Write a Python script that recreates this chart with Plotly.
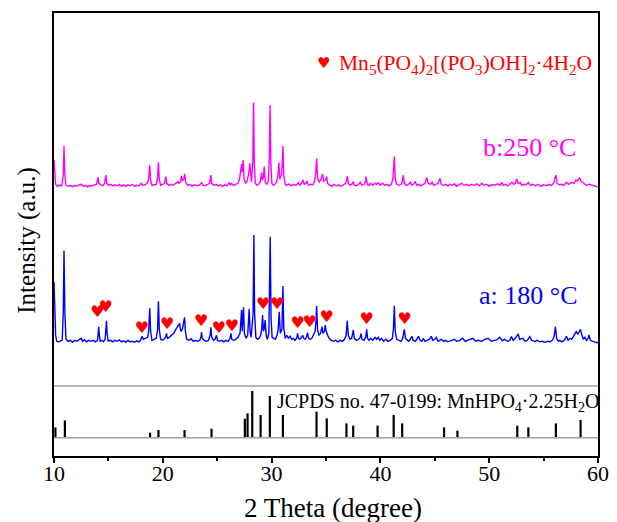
import plotly.graph_objects as go

# ---------------- data ----------------
# (2theta, intensity above the pattern's own baseline, a.u.)
curve_a_180C = [
    (10.0, 61.6), (10.08, 40), (10.15, 8), (10.25, 2), (10.4, 1.5), (10.6, 2.5), (10.75, 3), (10.85, 30),
    (10.92, 92.6), (11.0, 30), (11.1, 4), (11.3, 2), (11.5, 3), (11.7, 1), (11.9, 3), (12.1, 2), (12.3, 4),
    (12.5, 5), (12.65, 2), (12.8, 3.5), (13.0, 1.5), (13.2, 3), (13.4, 2), (13.6, 3), (13.8, 1.5), (14.0, 3),
    (14.06, 10), (14.11, 16.6), (14.17, 8), (14.25, 2), (14.4, 3), (14.55, 1.5), (14.7, 4), (14.76, 12),
    (14.82, 22.6), (14.88, 10), (14.98, 2.5), (15.2, 3), (15.4, 1.5), (15.6, 3), (15.8, 2), (16.0, 3.5),
    (16.2, 1.5), (16.4, 2.5), (16.6, 1), (16.8, 3), (17.0, 1.5), (17.2, 2), (17.4, 1), (17.6, 2.5), (17.8, 1.5),
    (17.95, 3), (18.05, 6), (18.1, 7), (18.2, 4), (18.4, 5), (18.6, 6), (18.7, 12), (18.8, 35), (18.88, 12),
    (19.0, 3), (19.2, 4), (19.4, 5), (19.52, 14), (19.6, 42), (19.68, 14), (19.8, 4), (19.95, 3), (20.1, 4),
    (20.25, 6), (20.34, 10), (20.42, 5), (20.6, 6), (20.8, 8), (21.0, 10), (21.2, 14), (21.4, 17), (21.55, 20),
    (21.65, 12), (21.8, 14), (21.93, 22), (22.0, 26), (22.08, 12), (22.2, 4), (22.4, 3), (22.6, 4.5), (22.8, 2),
    (23.0, 3), (23.2, 2), (23.4, 3), (23.5, 6), (23.56, 11.3), (23.62, 5), (23.8, 3), (24.0, 2), (24.2, 3),
    (24.35, 8), (24.42, 16), (24.5, 6), (24.65, 3), (24.8, 4), (24.94, 8), (25.02, 3), (25.2, 2), (25.4, 3),
    (25.6, 1.5), (25.8, 3), (26.0, 2), (26.18, 5), (26.26, 10), (26.34, 4), (26.5, 3), (26.7, 4), (26.9, 6),
    (27.1, 10), (27.24, 33.3), (27.3, 12), (27.36, 20), (27.42, 36), (27.5, 10), (27.65, 5), (27.8, 8),
    (27.88, 20), (27.94, 34.3), (28.02, 12), (28.12, 6), (28.3, 30), (28.37, 108.3), (28.44, 30), (28.55, 6),
    (28.7, 4), (28.85, 5), (29.0, 8), (29.1, 15), (29.17, 28.3), (29.25, 12), (29.33, 15), (29.41, 23.3),
    (29.5, 8), (29.6, 4), (29.75, 10), (29.87, 106.6), (29.95, 25), (30.05, 6), (30.2, 5), (30.35, 4),
    (30.5, 8), (30.6, 14), (30.7, 31.6), (30.8, 10), (30.95, 14), (31.04, 57.3), (31.12, 15), (31.25, 5),
    (31.4, 8), (31.55, 5), (31.7, 7), (31.85, 4), (32.0, 5), (32.15, 3), (32.3, 5), (32.39, 10), (32.48, 5),
    (32.6, 4), (32.75, 6), (32.85, 8), (32.95, 5), (33.1, 4), (33.22, 7), (33.3, 10.6), (33.4, 5), (33.55, 4),
    (33.7, 5), (33.85, 8), (34.0, 12), (34.08, 22), (34.14, 37.3), (34.22, 14), (34.35, 8), (34.5, 10),
    (34.63, 16.6), (34.72, 10), (34.85, 12), (34.93, 18.3), (35.02, 12), (35.15, 8), (35.3, 5), (35.5, 3),
    (35.7, 2), (35.9, 3), (36.1, 1.5), (36.3, 3), (36.5, 2), (36.7, 4), (36.85, 8), (36.95, 22.6), (37.05, 8),
    (37.2, 4), (37.35, 5), (37.45, 10), (37.51, 13.3), (37.6, 5), (37.8, 3), (38.0, 4), (38.15, 6), (38.22, 10),
    (38.3, 4), (38.5, 3), (38.65, 6), (38.74, 14), (38.82, 5), (38.95, 3), (39.1, 5), (39.3, 3), (39.5, 6),
    (39.65, 4), (39.8, 6), (39.95, 3), (40.1, 5), (40.3, 2), (40.5, 4), (40.7, 2), (40.9, 3), (41.1, 5),
    (41.2, 15), (41.28, 37.6), (41.36, 12), (41.5, 4), (41.7, 3), (41.9, 2), (42.05, 5), (42.2, 14), (42.3, 5),
    (42.45, 3), (42.6, 2), (42.75, 4), (42.9, 7), (43.0, 3), (43.2, 2), (43.35, 4), (43.5, 7), (43.65, 3),
    (43.8, 2), (43.95, 5), (44.1, 2), (44.3, 3), (44.5, 4), (44.68, 7), (44.8, 3), (45.0, 4), (45.14, 6),
    (45.3, 2), (45.6, 4), (45.8, 2), (46.0, 3), (46.2, 1.5), (46.5, 3), (46.8, 4), (47.0, 2), (47.3, 3),
    (47.55, 5), (47.8, 2), (48.0, 3), (48.25, 4), (48.5, 5), (48.75, 2), (49.0, 3), (49.3, 2), (49.6, 4),
    (49.9, 5), (50.2, 2), (50.5, 3), (50.75, 4), (50.97, 6), (51.2, 2.5), (51.4, 4), (51.7, 2), (51.9, 3),
    (52.04, 6.7), (52.2, 3), (52.4, 5), (52.66, 9.3), (52.8, 4), (53.1, 5), (53.3, 2), (53.5, 3), (53.73, 6.7),
    (53.9, 3), (54.2, 2), (54.4, 3), (54.65, 1.5), (54.9, 2), (55.1, 1), (55.4, 2), (55.6, 1.5), (55.8, 3),
    (55.95, 6), (56.09, 16.6), (56.2, 5), (56.35, 2), (56.5, 3), (56.7, 1.5), (56.9, 3), (57.1, 7), (57.25, 3),
    (57.45, 5), (57.6, 4), (57.8, 8), (58.0, 11.7), (58.15, 9), (58.3, 12), (58.39, 14), (58.5, 9), (58.65, 4),
    (58.8, 6), (58.95, 3), (59.1, 5), (59.16, 8.3), (59.3, 3), (59.5, 2), (59.56, 2.5), (59.75, 1), (60.0, 0.5),
]

curve_b_250C = [
    (10.0, 27.3), (10.08, 15), (10.15, 3), (10.3, 1), (10.5, 2), (10.7, 1.5), (10.85, 12), (10.92, 41.3),
    (11.0, 12), (11.1, 2), (11.3, 1), (11.5, 2), (11.7, 0.5), (11.9, 2), (12.1, 1), (12.3, 2.5), (12.5, 3),
    (12.7, 1), (12.9, 2), (13.1, 0.5), (13.3, 2), (13.5, 1), (13.7, 2.5), (13.9, 3), (14.05, 10), (14.12, 4),
    (14.3, 2.5), (14.5, 1.5), (14.65, 4), (14.76, 12.3), (14.85, 4), (15.0, 2), (15.2, 3), (15.4, 1.5),
    (15.6, 2.5), (15.8, 1.5), (16.0, 3), (16.2, 1), (16.4, 2.5), (16.6, 1), (16.8, 2.5), (17.0, 1.5), (17.2, 3),
    (17.4, 1), (17.6, 2), (17.8, 1.5), (18.0, 4), (18.15, 2), (18.35, 2.5), (18.55, 4), (18.7, 8), (18.8, 22.3),
    (18.88, 7), (19.0, 2), (19.2, 2.5), (19.4, 3), (19.5, 8), (19.6, 25), (19.68, 8), (19.8, 2), (20.0, 3),
    (20.15, 4), (20.28, 10.7), (20.36, 4), (20.55, 2), (20.75, 3), (20.95, 2), (21.15, 4), (21.3, 5),
    (21.4, 5.7), (21.5, 4), (21.65, 6), (21.72, 11.7), (21.8, 7), (21.92, 8), (22.02, 13.3), (22.1, 5),
    (22.3, 2), (22.5, 3), (22.7, 1), (22.9, 2.5), (23.1, 1.5), (23.3, 2), (23.45, 3), (23.56, 5), (23.7, 2),
    (23.9, 1.5), (24.1, 2.5), (24.3, 4), (24.42, 12.3), (24.5, 4), (24.7, 2), (24.9, 3), (25.1, 1.5),
    (25.3, 2.5), (25.5, 1), (25.7, 2.5), (25.9, 1.5), (26.1, 4.7), (26.2, 2), (26.3, 4), (26.5, 2), (26.7, 3),
    (26.9, 4), (27.05, 8), (27.15, 14), (27.24, 23.3), (27.3, 15), (27.39, 27.3), (27.47, 8), (27.6, 4),
    (27.75, 6), (27.9, 14), (28.0, 24), (28.07, 8), (28.15, 5), (28.27, 25), (28.34, 84.7), (28.41, 25),
    (28.5, 4), (28.65, 2), (28.8, 3), (28.95, 5), (29.08, 14.7), (29.16, 7), (29.25, 10), (29.32, 20.7),
    (29.4, 6), (29.55, 3), (29.7, 6), (29.78, 25), (29.86, 82.3), (29.93, 25), (30.02, 4), (30.15, 2),
    (30.3, 3), (30.45, 5), (30.58, 12), (30.67, 24.7), (30.75, 8), (30.9, 12), (30.97, 20), (31.04, 41.3),
    (31.12, 12), (31.25, 3), (31.4, 2), (31.6, 3.5), (31.8, 1.5), (32.0, 3), (32.2, 2), (32.35, 3),
    (32.45, 4.7), (32.6, 2), (32.75, 4), (32.9, 7.3), (33.0, 3), (33.15, 4), (33.26, 6.3), (33.4, 2),
    (33.6, 3), (33.8, 2.5), (33.95, 6), (34.05, 14), (34.14, 28.7), (34.22, 10), (34.35, 5), (34.5, 7),
    (34.6, 10), (34.69, 13.3), (34.78, 6), (34.92, 7), (35.06, 10.7), (35.15, 4), (35.35, 2), (35.55, 1),
    (35.75, 3), (35.95, 1.5), (36.15, 2.5), (36.35, 1), (36.55, 2), (36.75, 3.5), (36.88, 6), (36.96, 11.3),
    (37.05, 4), (37.2, 2), (37.35, 3), (37.5, 5.7), (37.6, 2), (37.8, 1.5), (38.0, 3), (38.15, 5), (38.3, 2),
    (38.5, 3), (38.6, 5), (38.68, 10.7), (38.78, 3), (38.95, 2), (39.1, 4), (39.3, 2), (39.5, 4), (39.65, 3),
    (39.8, 4.5), (40.0, 2), (40.2, 4), (40.4, 2), (40.6, 3), (40.8, 1.5), (41.0, 3), (41.15, 8), (41.28, 30.7),
    (41.36, 8), (41.5, 3), (41.7, 2), (41.9, 3), (42.02, 6), (42.1, 12.3), (42.2, 4), (42.4, 2), (42.6, 3),
    (42.75, 5), (42.9, 2), (43.05, 3), (43.2, 5.7), (43.35, 2), (43.5, 3), (43.7, 1.5), (43.9, 3), (44.1, 4),
    (44.26, 9.7), (44.4, 4), (44.6, 3), (44.75, 5), (44.9, 2), (45.1, 3), (45.3, 4), (45.48, 9), (45.6, 3),
    (45.8, 2), (46.0, 3), (46.2, 1.5), (46.4, 3), (46.6, 2), (46.8, 3.5), (47.0, 1), (47.2, 2.5), (47.45, 4),
    (47.7, 2), (47.9, 3), (48.1, 1.5), (48.35, 3), (48.6, 2), (48.85, 3.5), (49.1, 1.5), (49.3, 4), (49.5, 2),
    (49.75, 3), (50.0, 1), (50.25, 2.5), (50.5, 2), (50.75, 3.5), (51.0, 2), (51.16, 5), (51.3, 2), (51.5, 3),
    (51.7, 1.5), (51.9, 3), (52.08, 5), (52.25, 3), (52.4, 4), (52.54, 8.3), (52.65, 4), (52.85, 5), (53.0, 2),
    (53.2, 3), (53.4, 2.5), (53.6, 5), (53.8, 2), (54.0, 3), (54.25, 1.5), (54.5, 3), (54.75, 1), (55.0, 2.5),
    (55.25, 1.5), (55.5, 3), (55.75, 2), (55.95, 5), (56.05, 8), (56.13, 12.3), (56.25, 4), (56.45, 2.5),
    (56.65, 3), (56.85, 2), (57.1, 5), (57.3, 3), (57.6, 5), (57.8, 4), (57.96, 7.3), (58.1, 6), (58.3, 9.7),
    (58.45, 6), (58.7, 4), (58.9, 2), (59.2, 3), (59.4, 2), (59.65, 1.5), (59.85, 1), (60.0, 0),
]

# JCPDS 47-0199 reference lines (2theta, relative height)
jcpds_theta = [10.13, 11.0, 18.83, 19.6, 22.0, 24.48, 27.54, 27.79, 28.22, 28.99, 29.84, 31.04, 34.13,
               35.07, 36.88, 37.5, 39.74, 41.22, 42.0, 45.85, 47.08, 52.58, 53.6, 56.13, 58.4]
jcpds_height = [10.3, 17.3, 5, 7.7, 7.7, 9, 19, 24.3, 46.7, 22.7, 41.7, 22.7, 26,
                19.3, 14.3, 12, 12, 22.7, 14.3, 10.3, 7, 12, 10.3, 14.3, 17.7]

# heart markers (Mn5(PO4)2[(PO3)OH]2·4H2O reflections) on curve a
heart_theta = [13.99, 14.76, 18.07, 20.4, 23.53, 25.15, 26.35, 29.23, 30.52, 32.39, 33.5, 35.06, 38.74, 42.24]
heart_level = [142.7, 148.3, 126.7, 131, 133.7, 127, 128.7, 150.7, 151.3, 132, 133.3, 138.3, 135.7, 135.7]

x_ticks = [10, 20, 30, 40, 50, 60]

# ---------------- layout constants ----------------
A_OFFSET = 112.7
B_OFFSET = 268.7
REF_BASE = 18.3
REF_TOP = 70.0
Y_RANGE = [0, 443]
SERIF = "Liberation Serif, Times New Roman, serif"
BODY = 8  # default page margin of the html body

fig = go.Figure()

bx = [p[0] for p in curve_b_250C]
by = [p[1] + B_OFFSET for p in curve_b_250C]
fig.add_trace(go.Scatter(x=bx, y=by, mode="lines", line=dict(color="#FF00FF", width=1.4), hoverinfo="skip"))

ax = [p[0] for p in curve_a_180C]
ay = [p[1] + A_OFFSET for p in curve_a_180C]
fig.add_trace(go.Scatter(x=ax, y=ay, mode="lines", line=dict(color="#0000FF", width=1.4), hoverinfo="skip"))

sx, sy = [], []
for t, h in zip(jcpds_theta, jcpds_height):
    sx += [t, t, None]
    sy += [REF_BASE, REF_BASE + h, None]
fig.add_trace(go.Scatter(x=sx, y=sy, mode="lines", line=dict(color="black", width=2.2), hoverinfo="skip"))

fig.add_trace(go.Scatter(x=heart_theta, y=heart_level, mode="text", text=["♥"] * len(heart_theta),
                         textposition="middle center",
                         textfont=dict(family="DejaVu Sans", size=16, color="#FF0000"), hoverinfo="skip"))

for yy in (REF_BASE, REF_TOP):
    fig.add_shape(type="line", xref="paper", yref="y", x0=0, x1=1, y0=yy, y1=yy,
                  line=dict(color="#A0A0A0", width=1.5))

fig.add_annotation(x=34.81, y=393, xref="x", yref="y", text="♥", showarrow=False,
                   font=dict(family="DejaVu Sans", size=15, color="#FF0000"))
fig.add_annotation(x=36.0, y=392, xref="x", yref="y", xanchor="left", yanchor="middle", showarrow=False,
                   text="Mn<sub>5</sub>(PO<sub>4</sub>)<sub>2</sub>[(PO<sub>3</sub>)OH]<sub>2</sub>·4H<sub>2</sub>O",
                   font=dict(family=SERIF, size=21.5, color="#FF0000"))
fig.add_annotation(x=58.2, y=309, xref="x", yref="y", xanchor="right", yanchor="middle", showarrow=False,
                   text="b:250 °C", font=dict(family=SERIF, size=26, color="#FF00FF"))
fig.add_annotation(x=58.35, y=160.7, xref="x", yref="y", xanchor="right", yanchor="middle", showarrow=False,
                   text="a: 180 °C", font=dict(family=SERIF, size=26, color="#0000FF"))
fig.add_annotation(x=30.3, y=54, xref="x", yref="y", xanchor="left", yanchor="middle", showarrow=False,
                   text="JCPDS no. 47-0199: MnHPO<sub>4</sub>·2.25H<sub>2</sub>O",
                   font=dict(family=SERIF, size=20, color="black"))
fig.add_annotation(x=-0.078, y=0.485, xref="paper", yref="paper", textangle=-90, showarrow=False,
                   text="Intensity (a.u.)", font=dict(family=SERIF, size=25, color="black"))
fig.add_annotation(x=0.513, y=-0.117, xref="paper", yref="paper", showarrow=False, yanchor="middle",
                   text="2 Theta (degree)", font=dict(family=SERIF, size=27, color="black"))

fig.update_layout(
    width=617 - BODY, height=522 - BODY,
    margin=dict(l=54 - BODY, r=19, t=13 - BODY, b=66, autoexpand=False),
    paper_bgcolor="white", plot_bgcolor="white",
    showlegend=False,
    font=dict(family=SERIF, size=22, color="black"),
)
fig.update_xaxes(range=[10, 60], tickvals=x_ticks, ticktext=[str(v) for v in x_ticks],
                 ticks="outside", ticklen=5, tickwidth=1.5, tickcolor="black",
                 minor=dict(dtick=5, tick0=10, ticks="outside", ticklen=3, tickwidth=1.5, tickcolor="black"),
                 showline=True, linecolor="black", linewidth=1.5, mirror=True,
                 showgrid=False, zeroline=False, ticklabelstandoff=-8,
                 tickfont=dict(family=SERIF, size=22, color="black"))
fig.update_yaxes(range=Y_RANGE, showticklabels=False, ticks="",
                 showline=True, linecolor="black", linewidth=1.5, mirror=True,
                 showgrid=False, zeroline=False)

fig.write_html("out.html")
